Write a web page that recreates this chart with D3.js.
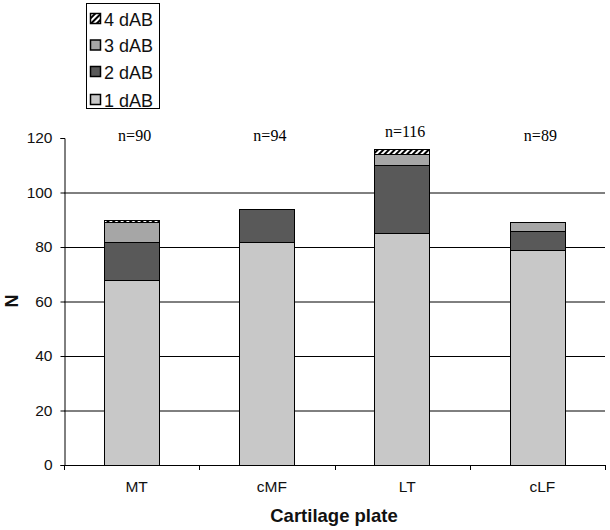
<!DOCTYPE html>
<html><head><meta charset="utf-8">
<script src="https://cdn.jsdelivr.net/npm/d3@7"></script>
<style>body{margin:0;background:#fff}</style>
</head><body>
<svg id="c" width="610" height="530"></svg>
<script>
const categories = ["MT","cMF","LT","cLF"];
const seriesNames = ["1 dAB","2 dAB","3 dAB","4 dAB"];
const dAB1 = [68,82,85,79];
const dAB2 = [14,12,25,7];
const dAB3 = [7,0,4,3];
const dAB4 = [1,0,2,0];
const nLabels = ["n=90","n=94","n=116","n=89"];
const yTicks = [0,20,40,60,80,100,120];

const svg = d3.select("#c");
const defs = svg.append("defs");
const pat = defs.append("pattern").attr("id","hatch").attr("patternUnits","userSpaceOnUse")
  .attr("width",4).attr("height",4).attr("patternTransform","rotate(45)");
pat.append("rect").attr("width",4).attr("height",4).attr("fill","#fff");
pat.append("rect").attr("x",0).attr("y",0).attr("width",2).attr("height",4).attr("fill","#000");

const fills = {"1 dAB":"#c8c8c8","2 dAB":"#595959","3 dAB":"#a6a6a6","4 dAB":"url(#hatch)"};
const sans = "Liberation Sans, Arial, sans-serif";

const x = d3.scaleBand().domain(categories).range([64,605]).paddingInner(0.59).paddingOuter(0.295);
const y = d3.scaleLinear().domain([0,120]).range([465,138]);

// gridlines
svg.append("g").selectAll("line").data(yTicks.filter(t=>t>0&&t<120)).join("line")
  .attr("x1",64).attr("x2",605).attr("y1",d=>y(d)+0.5).attr("y2",d=>y(d)+0.5)
  .attr("stroke","#000").attr("stroke-width",1);

const table = categories.map((c,i)=>({cat:c,"1 dAB":dAB1[i],"2 dAB":dAB2[i],"3 dAB":dAB3[i],"4 dAB":dAB4[i]}));
const stack = d3.stack().keys(seriesNames)(table);

svg.append("g").selectAll("g").data(stack).join("g")
  .attr("fill",d=>fills[d.key])
  .selectAll("rect").data(d=>d.filter(v=>v[1]-v[0]>0)).join("rect")
  .attr("x",d=>Math.round(x(d.data.cat))+0.5)
  .attr("width",Math.round(x.bandwidth()))
  .attr("y",d=>Math.round(y(d[1]))+0.5)
  .attr("height",d=>Math.round(y(d[0]))-Math.round(y(d[1])))
  .attr("stroke","#000").attr("stroke-width",1);

// y axis
const ya = svg.append("g").attr("transform","translate(64.5,0)")
  .call(d3.axisLeft(y).tickValues(yTicks).tickSize(4).tickPadding(8));
ya.select(".domain").attr("stroke","#000");
ya.selectAll("line").attr("stroke","#000");
ya.selectAll("text").attr("font-family",sans).attr("font-size","15.5px").attr("fill","#111");

// x axis
const xa = svg.append("g").attr("transform","translate(0,465.5)")
  .call(d3.axisBottom(x).tickSize(0).tickPadding(15));
xa.select(".domain").attr("d","M64,0H605").attr("stroke","#000");
xa.selectAll("text").attr("font-family",sans).attr("font-size","15.5px").attr("fill","#111").attr("dx",5);
const bx = [64].concat(categories.map(c=>x(c)+x.bandwidth()+x.step()*x.paddingInner()/2));
svg.append("g").selectAll("line").data(bx).join("line")
  .attr("x1",d=>Math.round(d)+0.5).attr("x2",d=>Math.round(d)+0.5)
  .attr("y1",465).attr("y2",470).attr("stroke","#000");

// n labels
svg.append("g").selectAll("text").data(categories).join("text")
  .attr("x",d=>x(d)+x.bandwidth()/2+3)
  .attr("y",(d,i)=>i===2?137:141)
  .attr("text-anchor","middle")
  .attr("font-family","Liberation Serif, Times New Roman, serif").attr("font-size","16px").attr("fill","#000")
  .text((d,i)=>nLabels[i]);

// axis titles
svg.append("text").attr("transform","translate(18,301) rotate(-90)").attr("text-anchor","middle")
  .attr("font-family",sans).attr("font-weight","bold").attr("font-size","18px").attr("fill","#111").text("N");
svg.append("text").attr("x",334).attr("y",522).attr("text-anchor","middle")
  .attr("font-family",sans).attr("font-weight","bold").attr("font-size","18.5px").attr("fill","#111").text("Cartilage plate");

// legend
const lg = svg.append("g");
lg.append("rect").attr("x",86.5).attr("y",3.5).attr("width",73).attr("height",105).attr("fill","#fff").attr("stroke","#000");
const legOrder = ["4 dAB","3 dAB","2 dAB","1 dAB"];
const ly = [19,45.5,72,100];
legOrder.forEach((k,i)=>{
  lg.append("rect").attr("x",90.5).attr("y",ly[i]-5.5).attr("width",10).attr("height",10)
    .attr("fill",fills[k]).attr("stroke","#000").attr("stroke-width",1.5);
  lg.append("text").attr("x",104).attr("y",ly[i]+6.5)
    .attr("font-family",sans).attr("font-size","18px").attr("fill","#111").text(k);
});
</script>
</body></html>
